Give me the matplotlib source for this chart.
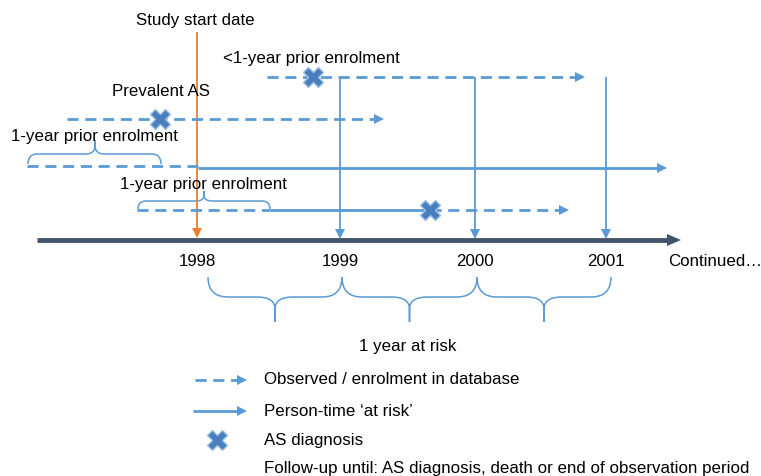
import matplotlib
matplotlib.use("Agg")
import matplotlib.pyplot as plt
from matplotlib.path import Path
from matplotlib.patches import PathPatch

plt.rcParams['font.family'] = ['Liberation Sans', 'DejaVu Sans']

# ---- data (diagram units: horizontal/vertical positions on canvas) ----
years = ["1998", "1999", "2000", "2001"]
year_x = [197, 340, 475, 606]
axis_y = 240
axis_start, axis_end = 37, 681
study_start_x = 197

# rows: (y level, start, end, diagnosis x)
row_lt1_y, row_lt1_start, row_lt1_end, row_lt1_dx = 77, 267, 585, 313
row_prev_y, row_prev_start, row_prev_end, row_prev_dx = 119, 67, 384, 160
row_1yr_y, row_1yr_start, row_1yr_risk, row_1yr_end = 167, 27, 198, 667
row_b_y, row_b_start, row_b_risk, row_b_dx, row_b_end = 210, 137, 270, 430, 569
verticals_x = [340, 475, 606]
brace_edges = [208, 342, 477, 611]

BLUE = "#5b9bd5"
XBLUE = "#4a7fbd"
XEDGE = "#9dbfe6"
ORANGE = "#ed7d31"
NAVY = "#44546a"
FS = 12.2

fig = plt.figure(figsize=(7.61, 4.76), dpi=100)
ax = fig.add_axes([0, 0, 1, 1])
ax.set_xlim(0, 761)
ax.set_ylim(476, 0)
ax.axis("off")

DASH = (4.0, 2.4)


def arrow_line(x0, x1, y, ls="-", lw=2.0, head=10, hw=5, color=BLUE):
    kw = dict(dashes=DASH) if ls == "--" else {}
    ax.plot([x0, x1 - head + 1], [y, y], color=color, lw=lw,
            solid_capstyle="butt", dash_capstyle="butt", **kw)
    ax.fill([x1 - head, x1, x1 - head], [y - hw, y, y + hw], color=color, lw=0)


def varrow(x, y0, y1, lw=1.3, color=BLUE, head=10, hw=5):
    ax.plot([x, x], [y0, y1 - head + 1], color=color, lw=lw, solid_capstyle="butt")
    ax.fill([x - hw, x, x + hw], [y1 - head, y1, y1 - head], color=color, lw=0)


def hline(x0, x1, y, ls="-", lw=2.0, color=BLUE):
    kw = dict(dashes=DASH) if ls == "--" else {}
    ax.plot([x0, x1], [y, y], color=color, lw=lw, solid_capstyle="butt",
            dash_capstyle="butt", **kw)


def xmark(x, y, s=15):
    ax.plot([x], [y], marker="X", ms=s, mfc=XBLUE, mec=XEDGE, mew=1.0, zorder=5)


def brace(x0, x1, y_end, y_bar, y_tip, xc=None, lw=1.1, rx=14, rt=12):
    if xc is None:
        xc = (x0 + x1) / 2
    s = 1 if y_tip > y_bar else -1
    rt_y = min(abs(y_tip - y_bar) * 0.6, 12)
    verts = [(x0, y_end), (x0, y_bar), (x0 + rx, y_bar),
             (xc - rt, y_bar), (xc, y_bar), (xc, y_bar + s * rt_y),
             (xc, y_tip),
             (xc, y_tip), (xc, y_bar + s * rt_y),
             (xc, y_bar), (xc + rt, y_bar),
             (x1 - rx, y_bar), (x1, y_bar), (x1, y_end)]
    codes = [Path.MOVETO, Path.CURVE3, Path.CURVE3,
             Path.LINETO, Path.CURVE3, Path.CURVE3,
             Path.LINETO,
             Path.MOVETO, Path.LINETO,
             Path.CURVE3, Path.CURVE3,
             Path.LINETO, Path.CURVE3, Path.CURVE3]
    ax.add_patch(PathPatch(Path(verts, codes), fill=False, ec=BLUE, lw=lw))


# main time axis
ax.plot([axis_start, axis_end - 12], [axis_y, axis_y], color=NAVY, lw=3.5,
        solid_capstyle="butt")
ax.fill([axis_end - 14, axis_end, axis_end - 14],
        [axis_y - 6, axis_y, axis_y + 6], color=NAVY, lw=0)
for lab, x in zip(years, year_x):
    ax.text(x, 262, lab, ha="center", va="center", fontsize=FS)
ax.text(668, 262, "Continued\u2026", ha="left", va="center", fontsize=FS)

# study start
ax.text(195, 20, "Study start date", ha="center", va="center", fontsize=FS)
varrow(study_start_x, 32, 238, lw=1.3, color=ORANGE)

# row <1-year prior enrolment
ax.text(223, 59, "<1-year prior enrolment", ha="left", va="center", fontsize=FS)
arrow_line(row_lt1_start, row_lt1_end, row_lt1_y, ls="--")
xmark(row_lt1_dx, row_lt1_y)
for vx in verticals_x:
    varrow(vx, row_lt1_y, axis_y - 1)

# prevalent AS
ax.text(112, 92, "Prevalent AS", ha="left", va="center", fontsize=FS)
arrow_line(row_prev_start, row_prev_end, row_prev_y, ls="--")
xmark(row_prev_dx, row_prev_y)

# 1-year prior enrolment (row 3)
ax.text(11, 137, "1-year prior enrolment", ha="left", va="center", fontsize=FS)
brace(row_1yr_start + 1, 161, 164, 154, 140, xc=95, rx=9, rt=9)
hline(row_1yr_start, row_1yr_risk, row_1yr_y - 1, ls="--")
arrow_line(row_1yr_risk, row_1yr_end, row_1yr_y + 1)

# 1-year prior enrolment (row 4)
ax.text(120, 184, "1-year prior enrolment", ha="left", va="center", fontsize=FS)
brace(row_b_start + 1, row_b_risk, 209, 201, 191, xc=204, rx=8, rt=8)
hline(row_b_start, row_b_risk, row_b_y, ls="--")
hline(row_b_risk, row_b_dx, row_b_y)
arrow_line(row_b_dx, row_b_end, row_b_y, ls="--")
xmark(row_b_dx, row_b_y)

# bottom braces: 1 year at risk
for a, b in zip(brace_edges[:-1], brace_edges[1:]):
    brace(a, b, 277, 297, 322, rx=20, rt=18)
ax.text(408, 346, "1 year at risk", ha="center", va="center", fontsize=FS)

# legend
arrow_line(195, 247, 380, ls="--")
ax.text(264, 380, "Observed / enrolment in database", ha="left", va="center", fontsize=FS)
arrow_line(193, 247, 411)
ax.text(264, 411, "Person-time \u2018at risk\u2019", ha="left", va="center", fontsize=FS)
xmark(217, 440)
ax.text(264, 440, "AS diagnosis", ha="left", va="center", fontsize=FS)
ax.text(264, 469, "Follow-up until: AS diagnosis, death or end of observation period",
        ha="left", va="center", fontsize=FS)

fig.savefig("out.png", dpi=100)
